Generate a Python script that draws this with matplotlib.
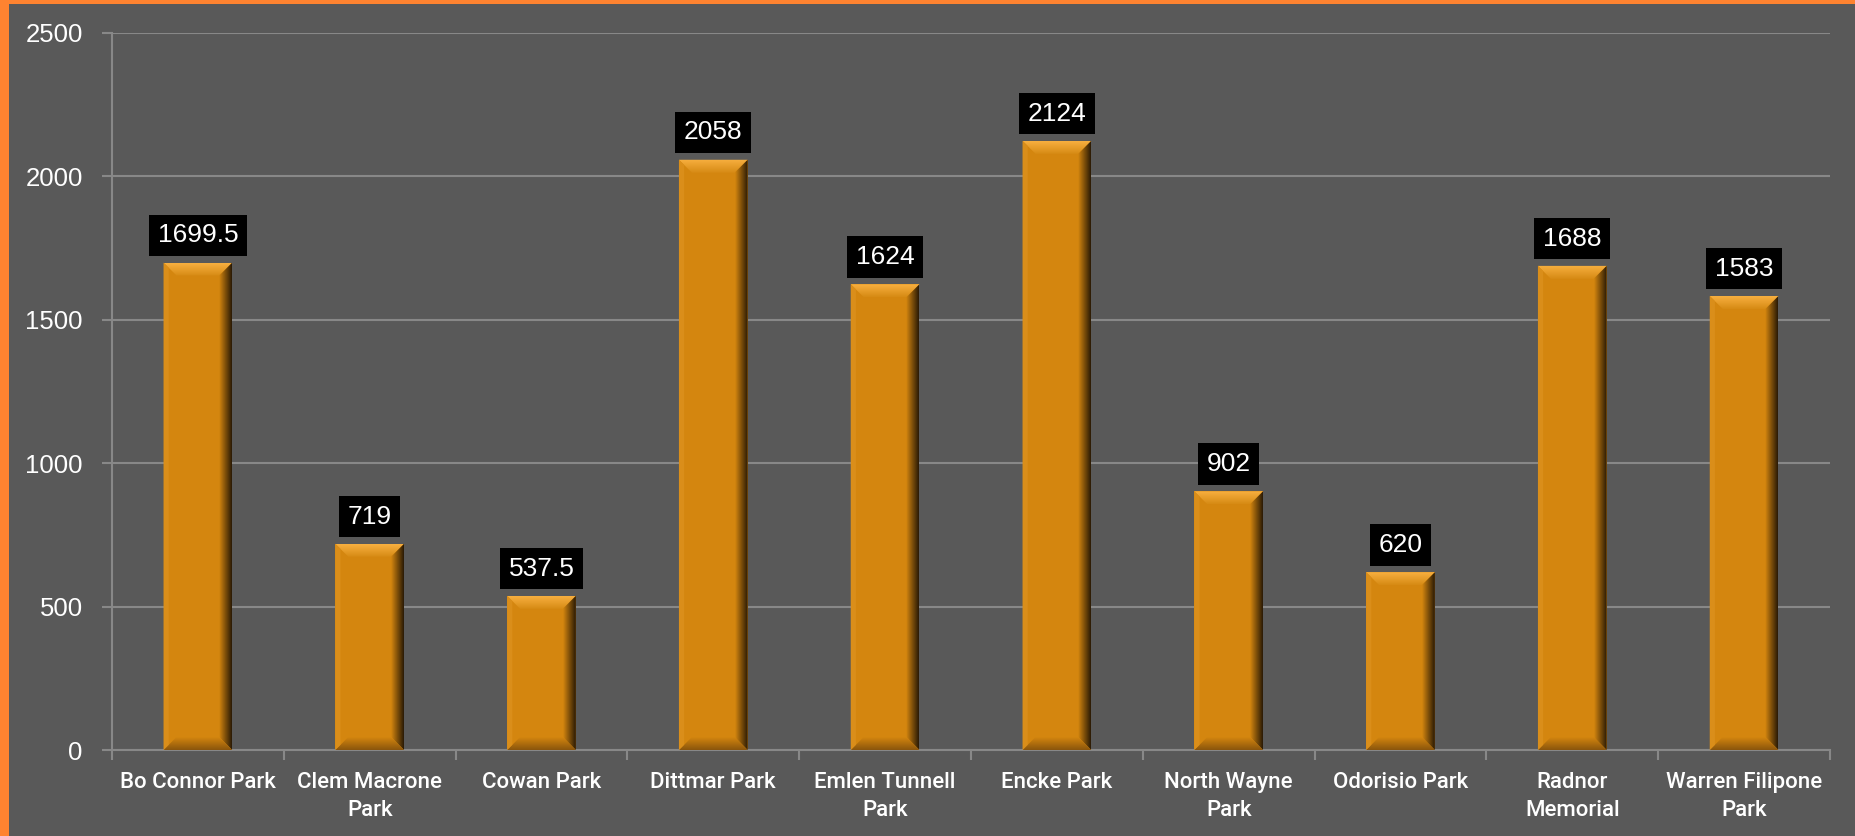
import numpy as np
import matplotlib
matplotlib.use("Agg")
import matplotlib.pyplot as plt
from matplotlib.patches import Polygon, Rectangle

parks = ["Bo Connor Park", "Clem Macrone\nPark", "Cowan Park", "Dittmar Park",
         "Emlen Tunnell\nPark", "Encke Park", "North Wayne\nPark", "Odorisio Park",
         "Radnor\nMemorial", "Warren Filipone\nPark"]
values = [1699.5, 719, 537.5, 2058, 1624, 2124, 902, 620, 1688, 1583]
labels = ["1699.5", "719", "537.5", "2058", "1624", "2124", "902", "620", "1688", "1583"]
yticks = [0, 500, 1000, 1500, 2000, 2500]

bg = "#595959"
orange_border = "#FF8330"
bar_col = "#D4860F"
grid_col = "#888888"

plt.rcParams["font.family"] = ["Liberation Sans", "DejaVu Sans"]

fig = plt.figure(figsize=(18.55, 8.36), dpi=100)
fig.patch.set_facecolor(bg)
# orange frame on top and left edge
fig.add_artist(Rectangle((0, 0), 9 / 1855, 1, transform=fig.transFigure,
                         facecolor=orange_border, edgecolor="none"))
fig.add_artist(Rectangle((0, 1 - 4 / 836), 1, 4 / 836, transform=fig.transFigure,
                         facecolor=orange_border, edgecolor="none"))

ax = fig.add_axes([112 / 1855, 1 - 750 / 836, (1830 - 112) / 1855, (750 - 33) / 836])
ax.set_facecolor(bg)
n = len(parks)
x = np.arange(n)
ax.set_xlim(-0.5, n - 0.5)
ax.set_ylim(0, 2500)

for s in ["top", "right"]:
    ax.spines[s].set_visible(False)
for s in ["left", "bottom"]:
    ax.spines[s].set_color(grid_col)
    ax.spines[s].set_linewidth(1.5)

ax.set_yticks(yticks)
ax.set_yticklabels([str(v) for v in yticks])
ax.yaxis.grid(True, color=grid_col, linewidth=1.5)
ax.set_axisbelow(True)
ax.set_xticks(np.arange(n + 1) - 0.5, minor=False)
ax.set_xticklabels([])
ax.set_xticks(x, minor=True)
ax.set_xticklabels(parks, minor=True, fontsize=16, color="white", linespacing=1.4,
                   family=["Roboto", "DejaVu Sans"], fontweight="medium")
ax.tick_params(axis="x", which="minor", length=0, pad=16)
ax.tick_params(axis="x", which="major", length=7, color=grid_col, width=1.5, direction="out")
ax.tick_params(axis="y", length=7, color=grid_col, width=1.5, labelsize=18.5,
               labelcolor="white", pad=14)

width = 0.40
bars = ax.bar(x, values, width=width, color=bar_col, edgecolor="none", zorder=2)

# bevel size in data units (about 13 px)
bb = ax.get_window_extent()
dx = 13 * n / bb.width
dy = 13 * 2500 / bb.height


def grad_fill(poly, x0, x1, y0, y1, c0, c1, horizontal):
    c0 = np.array(matplotlib.colors.to_rgb(c0))
    c1 = np.array(matplotlib.colors.to_rgb(c1))
    t = np.linspace(0, 1, 64)[:, None]
    ramp = c0[None, :] * (1 - t) + c1[None, :] * t
    img = ramp[None, :, :] if horizontal else ramp[:, None, :]
    ax.add_patch(poly)
    im = ax.imshow(img, extent=[x0, x1, y0, y1], origin="lower", aspect="auto",
                   interpolation="bilinear", zorder=3)
    im.set_clip_path(poly)


for xi, v in zip(x, values):
    l, r = xi - width / 2, xi + width / 2
    # top bevel
    top = Polygon([(l, v), (r, v), (r - dx, v - dy), (l + dx, v - dy)],
                  closed=True, facecolor="none", edgecolor="none", zorder=3)
    grad_fill(top, l, r, v - dy, v, "#D68A14", "#F8B040", False)
    # right side
    right = Polygon([(r, v), (r, 0), (r - dx, dy), (r - dx, v - dy)],
                    closed=True, facecolor="none", edgecolor="none", zorder=3)
    grad_fill(right, r - dx, r, 0, v, bar_col, "#2A1A05", True)
    # bottom
    bot = Polygon([(l, 0), (r, 0), (r - dx, dy), (l + dx, dy)],
                  closed=True, facecolor="none", edgecolor="none", zorder=3)
    grad_fill(bot, l, r, 0, dy, "#8A550C", bar_col, False)
    # left side
    left = Polygon([(l, v), (l, 0), (l + dx * 0.4, dy * 0.4), (l + dx * 0.4, v - dy * 0.4)],
                   closed=True, facecolor="#DA8E1A", edgecolor="none", zorder=3)
    ax.add_patch(left)

for xi, v, lab in zip(x, values, labels):
    ax.annotate(lab, (xi, v), xytext=(0, 11), textcoords="offset points",
                ha="center", va="bottom", fontsize=19, color="white", zorder=5,
                bbox=dict(boxstyle="square,pad=0.33", facecolor="black", edgecolor="none"))

fig.savefig("out.png", dpi=100, facecolor=bg)
